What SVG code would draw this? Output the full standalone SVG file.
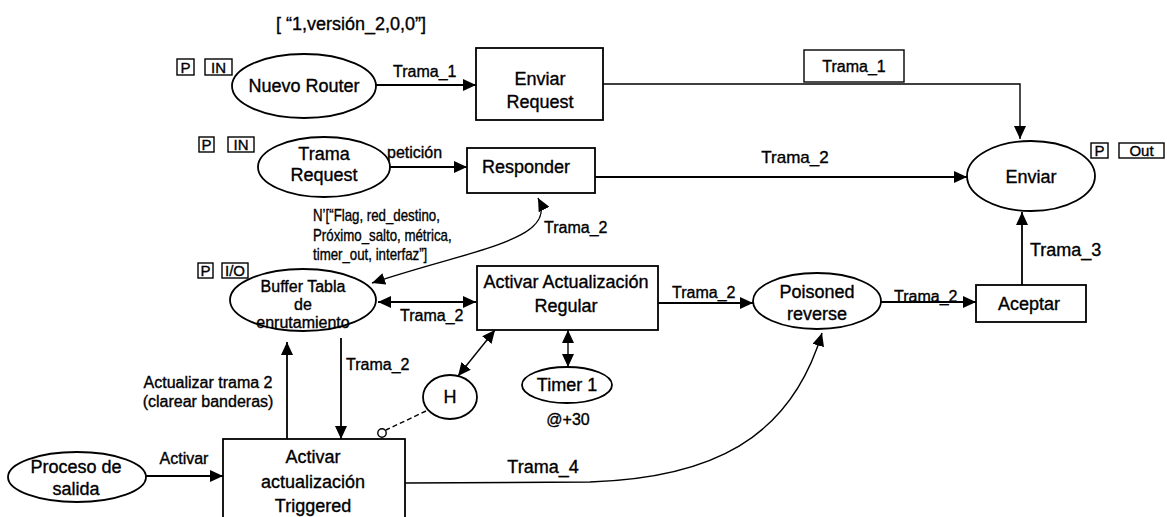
<svg xmlns="http://www.w3.org/2000/svg" width="1167" height="517" viewBox="0 0 1167 517">
  <style>
    .shape { fill: #ffffff; stroke: #000000; stroke-width: 1.8; }
    .tag { fill: #ffffff; stroke: #000000; stroke-width: 1.4; }
    .arc { fill: none; stroke: #000000; stroke-width: 1.8; }
    .thin { fill: none; stroke: #000000; stroke-width: 1.4; }
    text { font-family: "Liberation Sans", Arial, sans-serif; fill: #000000; stroke: #000000; stroke-width: 0.35; }
    .lbl { font-size: 18px; text-anchor: middle; }
    .mid { font-size: 16px; }
    .mid-c { font-size: 16px; text-anchor: middle; }
    .small { font-size: 15px; text-anchor: middle; }
    .narrow { font-size: 16px; }
  </style>
  <defs>
    <marker id="arrow" markerUnits="userSpaceOnUse" markerWidth="13" markerHeight="12" refX="13" refY="6" orient="auto-start-reverse">
      <path d="M0,0 L13,6 L0,12 z" fill="#000000"/>
    </marker>
  </defs>

  <!-- initial marking -->
  <text class="lbl" x="351" y="30">[ “1,versión_2,0,0”]</text>

  <!-- connectors -->
  <g id="connectors">
    <path class="arc" d="M376,85 L476,85" marker-end="url(#arrow)"/>
    <text class="mid" x="393" y="77">Trama_1</text>

    <path class="thin" d="M603,84 L1020,84 L1020,139" marker-end="url(#arrow)"/>
    <rect class="tag" x="804" y="50" width="100" height="32"/>
    <text class="mid-c" x="854" y="72">Trama_1</text>

    <path class="arc" d="M390,167 L467,167" marker-end="url(#arrow)"/>
    <text class="mid" x="387" y="158">petición</text>

    <path class="arc" d="M595,177 L967,177" marker-end="url(#arrow)"/>
    <text class="lbl" x="795" y="163" style="font-size:17px">Trama_2</text>

    <path class="thin" d="M372,283 C470,250 560,240 538,198" marker-start="url(#arrow)" marker-end="url(#arrow)"/>
    <text class="mid" x="544" y="233">Trama_2</text>
    <!-- arc inscription, set condensed -->
    <g transform="translate(313,0) scale(0.83,1)">
      <text class="narrow" x="0" y="221">N’[“Flag, red_destino,</text>
      <text class="narrow" x="0" y="241">Próximo_salto, métrica,</text>
      <text class="narrow" x="0" y="260">timer_out, interfaz”]</text>
    </g>

    <path class="arc" d="M378,302 L476,302" marker-start="url(#arrow)" marker-end="url(#arrow)"/>
    <text class="mid" x="400" y="321">Trama_2</text>

    <path class="arc" d="M658,303 L753,303" marker-end="url(#arrow)"/>
    <text class="mid" x="672" y="298">Trama_2</text>

    <path class="arc" d="M881,302 L976,302" marker-end="url(#arrow)"/>
    <text class="mid" x="894" y="302">Trama_2</text>

    <path class="arc" d="M1022,285 L1022,212" marker-end="url(#arrow)"/>
    <text class="lbl" x="1030" y="256" style="text-anchor:start">Trama_3</text>

    <path class="thin" d="M568,330 L568,367" marker-start="url(#arrow)" marker-end="url(#arrow)"/>
    <path class="thin" d="M495,330 L458,376" marker-start="url(#arrow)" marker-end="url(#arrow)"/>

    <path class="arc" d="M287,439 L287,342" marker-end="url(#arrow)"/>
    <text class="mid-c" x="208" y="388">Actualizar trama 2</text>
    <text class="mid-c" x="208" y="407">(clarear banderas)</text>

    <path class="arc" d="M341,338 L341,439" marker-end="url(#arrow)"/>
    <text class="mid" x="346" y="370">Trama_2</text>

    <path class="thin" d="M426,411 L386,430" stroke-dasharray="5,3"/>
    <circle cx="382" cy="433" r="4.2" class="tag" stroke-width="1.8"/>

    <path class="arc" d="M145,476 L223,476" marker-end="url(#arrow)"/>
    <text class="mid-c" x="184" y="464">Activar</text>

    <path class="thin" d="M405,483 L590,482 C710,478 790,440 822,333" marker-end="url(#arrow)"/>
    <text class="lbl" x="543" y="473">Trama_4</text>
  </g>

  <!-- places -->
  <g id="nuevo-router">
    <rect class="tag" x="177" y="59" width="17" height="16"/>
    <text class="small" x="185.5" y="73">P</text>
    <rect class="tag" x="205" y="59" width="27" height="16"/>
    <text class="small" x="218.5" y="73">IN</text>
    <ellipse class="shape" cx="304" cy="86" rx="72" ry="32"/>
    <text class="lbl" x="304" y="92">Nuevo Router</text>
  </g>

  <g id="trama-request">
    <rect class="tag" x="199" y="137" width="15" height="15"/>
    <text class="small" x="206.5" y="150">P</text>
    <rect class="tag" x="228" y="137" width="26" height="15"/>
    <text class="small" x="241" y="150">IN</text>
    <ellipse class="shape" cx="324" cy="167" rx="66" ry="30"/>
    <text class="lbl" x="324" y="160">Trama</text>
    <text class="lbl" x="324" y="181">Request</text>
  </g>

  <g id="buffer-tabla">
    <rect class="tag" x="198" y="263" width="15" height="15"/>
    <text class="small" x="205.5" y="276">P</text>
    <rect class="tag" x="222" y="263" width="26" height="15"/>
    <text class="small" x="235" y="276">I/O</text>
    <ellipse class="shape" cx="303" cy="300" rx="73" ry="31"/>
    <text class="mid-c" x="303" y="292">Buffer Tabla</text>
    <text class="mid-c" x="303" y="310">de</text>
    <text class="mid-c" x="303" y="328">enrutamiento</text>
  </g>

  <g id="enviar">
    <rect class="tag" x="1091" y="143" width="17" height="15"/>
    <text class="small" x="1099.5" y="156">P</text>
    <rect class="tag" x="1119" y="143" width="45" height="15"/>
    <text class="small" x="1141.5" y="156">Out</text>
    <ellipse class="shape" cx="1031" cy="176" rx="64" ry="35"/>
    <text class="lbl" x="1031" y="183">Enviar</text>
  </g>

  <g id="poisoned-reverse">
    <ellipse class="shape" cx="817" cy="301" rx="64" ry="28"/>
    <text class="lbl" x="817" y="298">Poisoned</text>
    <text class="lbl" x="817" y="320">reverse</text>
  </g>

  <g id="timer-1">
    <ellipse class="shape" cx="567" cy="385" rx="45" ry="18"/>
    <text class="lbl" x="567" y="391">Timer 1</text>
    <text class="mid-c" x="568" y="425">@+30</text>
  </g>

  <g id="h">
    <ellipse class="shape" cx="450" cy="397" rx="27" ry="22"/>
    <text class="lbl" x="450" y="403">H</text>
  </g>

  <g id="proceso-salida">
    <ellipse class="shape" cx="77" cy="477" rx="69" ry="25"/>
    <text class="lbl" x="76" y="473">Proceso de</text>
    <text class="lbl" x="76" y="495">salida</text>
  </g>

  <!-- transitions -->
  <g id="enviar-request">
    <rect class="shape" x="476" y="48" width="127" height="72"/>
    <text class="lbl" x="540" y="85">Enviar</text>
    <text class="lbl" x="540" y="108">Request</text>
  </g>

  <g id="responder">
    <rect class="shape" x="467" y="148" width="128" height="45"/>
    <text class="lbl" x="526" y="173">Responder</text>
  </g>

  <g id="activar-regular">
    <rect class="shape" x="477" y="266" width="181" height="64"/>
    <text class="lbl" x="566" y="288">Activar Actualización</text>
    <text class="lbl" x="566" y="312">Regular</text>
  </g>

  <g id="aceptar">
    <rect class="shape" x="976" y="285" width="110" height="37"/>
    <text class="lbl" x="1029" y="310">Aceptar</text>
  </g>

  <g id="activar-triggered">
    <rect class="shape" x="223" y="439" width="182" height="90"/>
    <text class="lbl" x="313" y="463">Activar</text>
    <text class="lbl" x="313" y="488">actualización</text>
    <text class="lbl" x="313" y="512">Triggered</text>
  </g>
</svg>
